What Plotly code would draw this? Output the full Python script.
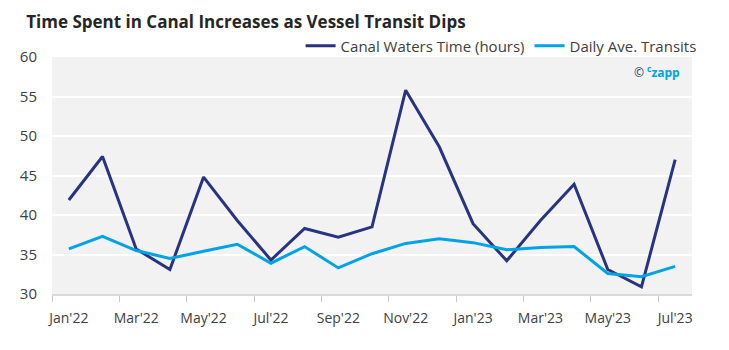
import plotly.graph_objects as go

months = ["Jan'22", "Feb'22", "Mar'22", "Apr'22", "May'22", "Jun'22", "Jul'22", "Aug'22",
          "Sep'22", "Oct'22", "Nov'22", "Dec'22", "Jan'23", "Feb'23", "Mar'23", "Apr'23",
          "May'23", "Jun'23", "Jul'23"]
canal_hours = [41.9, 47.4, 35.7, 33.1, 44.8, 39.3, 34.3, 38.3, 37.2, 38.5, 55.8, 48.6,
               38.9, 34.2, 39.3, 43.9, 33.1, 30.9, 47.0]
daily_transits = [35.7, 37.3, 35.5, 34.5, 35.4, 36.3, 33.9, 36.0, 33.3, 35.1, 36.4, 37.0,
                  36.5, 35.6, 35.9, 36.0, 32.6, 32.2, 33.5]

title_text = "Time Spent in Canal Increases as Vessel Transit Dips"
label_idx = list(range(0, len(months), 2))

NAVY = "#283480"
BLUE = "#00a3e6"
TXT = "#404040"

x = list(range(len(months)))
fig = go.Figure()
fig.add_trace(go.Scatter(x=x, y=canal_hours, mode="lines", name="Canal Waters Time (hours)",
                         line=dict(color=NAVY, width=3)))
fig.add_trace(go.Scatter(x=x, y=daily_transits, mode="lines", name="Daily Ave. Transits",
                         line=dict(color=BLUE, width=3)))

fig.update_layout(
    width=729, height=350,
    margin=dict(l=52, r=37, t=57, b=56),
    paper_bgcolor="white", plot_bgcolor="#f2f2f2",
    font=dict(family="Open Sans", size=13, color=TXT),
    title=dict(text="<b>" + title_text + "</b>", x=0.036, xanchor="left", y=0.937, yanchor="middle",
               font=dict(family="Open Sans", size=17, color="#262626")),
    legend=dict(orientation="h", x=1.015, xanchor="right", y=1.046, yanchor="middle",
                font=dict(size=15, color=TXT), bgcolor="rgba(0,0,0,0)",
                itemwidth=30, tracegroupgap=0),
    showlegend=True,
)
fig.update_xaxes(
    range=[-0.5, len(months) - 0.5],
    tickvals=label_idx, ticktext=[months[i] for i in label_idx],
    ticks="", showgrid=False, zeroline=False,
    showline=True, linecolor="#d9d9d9", linewidth=2,
    tickfont=dict(size=14, color=TXT), ticklabelstandoff=10,
    minor=dict(tickmode="array", tickvals=[i - 0.5 for i in label_idx[:-1]] + [len(months) - 1.5],
               ticks="outside", ticklen=6, tickcolor="#c8c8c8", tickwidth=1, showgrid=False),
)
fig.update_yaxes(
    range=[30, 60], dtick=5, showgrid=True, gridcolor="white", gridwidth=2,
    zeroline=False, ticks="", tickfont=dict(size=15, color=TXT), ticklabelstandoff=14,
)
fig.add_annotation(
    x=0.985, y=0.985, xref="paper", yref="paper", xanchor="right", yanchor="top",
    text="<span style='color:%s'>©</span> <b><span style='color:%s'><sup>c</sup>zapp</span></b>" % (NAVY, BLUE),
    showarrow=False, font=dict(size=12, family="Open Sans"),
)
fig.write_html("out.html")
